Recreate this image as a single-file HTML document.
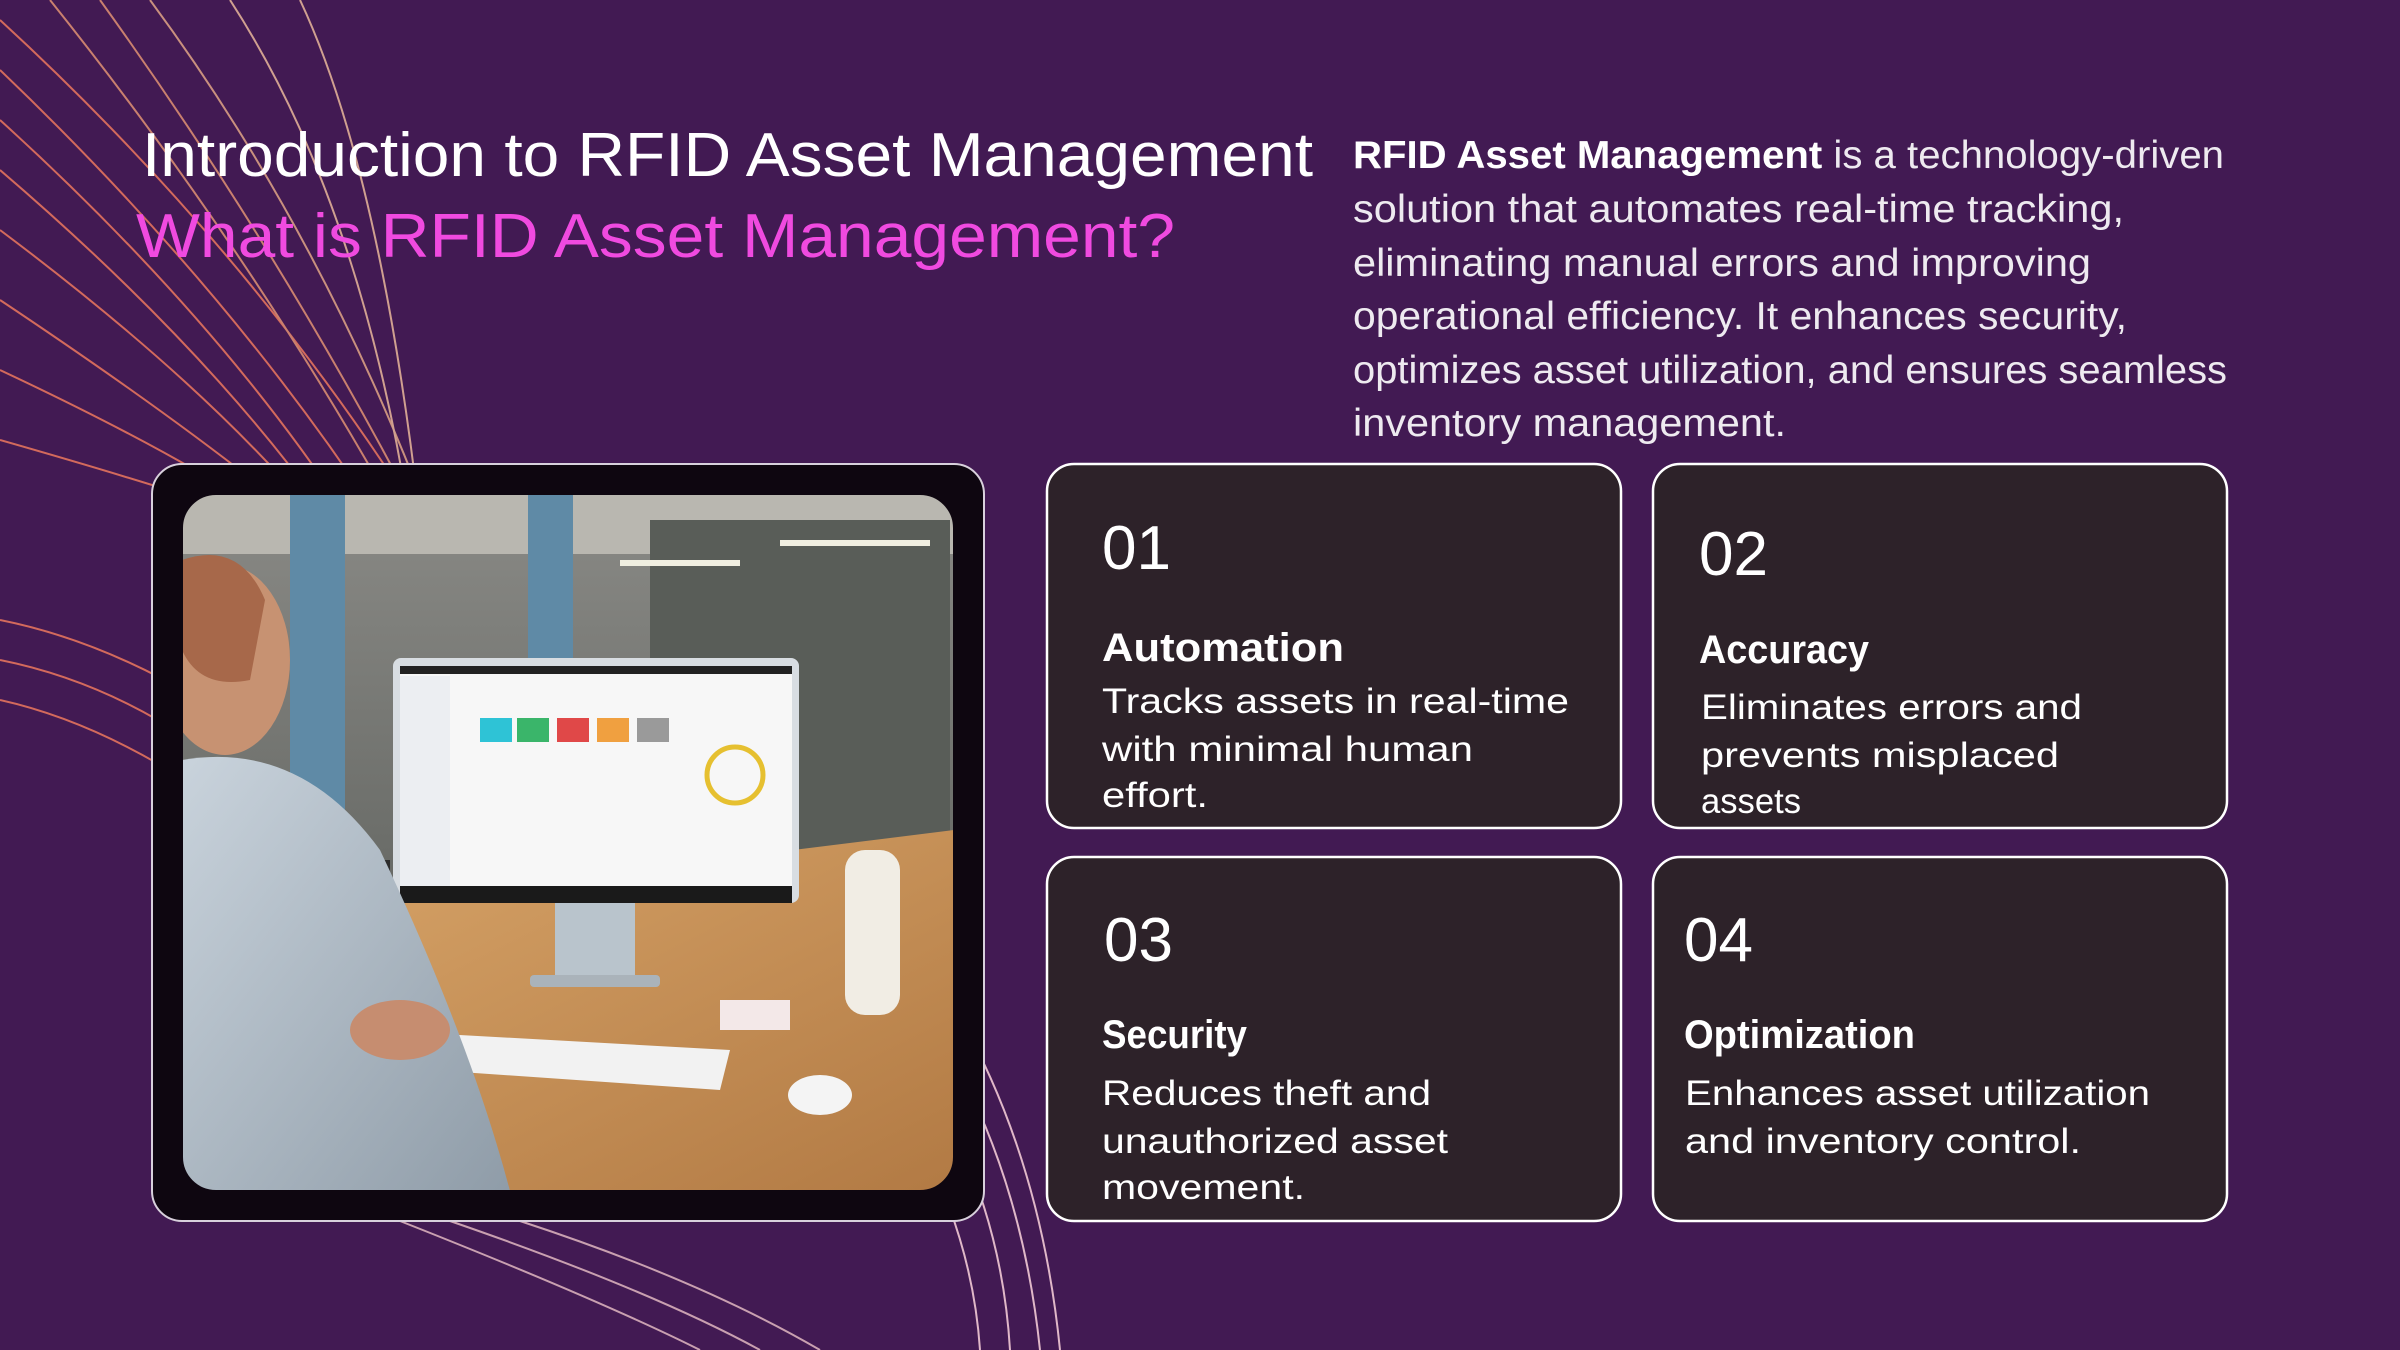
<!DOCTYPE html>
<html><head><meta charset="utf-8"><style>
html,body{margin:0;padding:0;background:#421a53;}
svg{display:block}
text{font-family:"Liberation Sans",sans-serif;}
</style></head><body>
<svg width="2400" height="1350" viewBox="0 0 2400 1350" xmlns="http://www.w3.org/2000/svg">
<defs>
<clipPath id="ph"><rect x="182" y="494" width="772" height="697" rx="34"/></clipPath>
<linearGradient id="bg" x1="0" y1="0" x2="0" y2="1"><stop offset="0" stop-color="#8a8a86"/><stop offset="0.5" stop-color="#6c6e6a"/><stop offset="1" stop-color="#4b4a44"/></linearGradient>
<linearGradient id="desk" x1="0" y1="0" x2="1" y2="1"><stop offset="0" stop-color="#d9a66a"/><stop offset="1" stop-color="#b27a44"/></linearGradient>
<linearGradient id="shirt" x1="0" y1="0" x2="1" y2="1"><stop offset="0" stop-color="#c9d3dc"/><stop offset="1" stop-color="#8f9ca8"/></linearGradient>
</defs>
<rect width="2400" height="1350" fill="#421a53"/>
<!-- decorative curves -->
<g fill="none" stroke-width="2">
<path d="M0 20 Q250 250 420 520" stroke="#d36a5c"/>
<path d="M0 70 Q230 290 380 520" stroke="#d36a5c"/>
<path d="M0 120 Q220 320 350 520" stroke="#d36a5c"/>
<path d="M0 170 Q210 350 330 520" stroke="#d36a5c"/>
<path d="M0 230 Q200 380 310 510" stroke="#d36a5c"/>
<path d="M0 300 Q180 420 290 510" stroke="#d36a5c"/>
<path d="M0 370 Q170 450 260 510" stroke="#d36a5c"/>
<path d="M0 440 Q140 480 230 510" stroke="#d36a5c"/>
<path d="M50 0 Q250 250 400 520" stroke="#c9806e"/>
<path d="M100 0 Q280 250 420 520" stroke="#c9806e"/>
<path d="M150 0 Q320 230 430 520" stroke="#c9907e"/>
<path d="M230 0 Q360 200 410 520" stroke="#d0a090"/>
<path d="M300 0 Q380 170 420 520" stroke="#d0a090"/>
<path d="M0 620 Q100 640 200 700" stroke="#d36a5c"/>
<path d="M0 660 Q100 680 190 740" stroke="#d36a5c"/>
<path d="M0 700 Q90 720 185 780" stroke="#d36a5c"/>
<path d="M950 1000 Q1040 1150 1060 1350" stroke="#e0b8c8"/>
<path d="M930 1020 Q1020 1160 1040 1350" stroke="#e0b8c8"/>
<path d="M900 1040 Q1000 1180 1010 1350" stroke="#e0b8c8"/>
<path d="M870 1060 Q970 1200 980 1350" stroke="#e0b8c8"/>
<path d="M400 1221 Q600 1300 700 1350" stroke="#c9a0b0"/>
<path d="M450 1221 Q650 1290 760 1350" stroke="#c9a0b0"/>
<path d="M520 1221 Q700 1280 820 1350" stroke="#c9a0b0"/>
</g>
<!-- titles -->
<text x="142" y="176" font-size="62" fill="#ffffff" textLength="1171" lengthAdjust="spacingAndGlyphs">Introduction to RFID Asset Management</text>
<text x="136" y="257" font-size="62" fill="#f04ae0" textLength="1039" lengthAdjust="spacingAndGlyphs">What is RFID Asset Management?</text>
<g font-size="39" fill="#eeeaf0">
<text x="1353" y="168" textLength="871" lengthAdjust="spacingAndGlyphs"><tspan font-weight="bold" fill="#fff">RFID Asset Management</tspan> is a technology-driven</text>
<text x="1353" y="222" textLength="771" lengthAdjust="spacingAndGlyphs">solution that automates real-time tracking,</text>
<text x="1353" y="276" textLength="738" lengthAdjust="spacingAndGlyphs">eliminating manual errors and improving</text>
<text x="1353" y="329" textLength="774" lengthAdjust="spacingAndGlyphs">operational efficiency. It enhances security,</text>
<text x="1353" y="383" textLength="874" lengthAdjust="spacingAndGlyphs">optimizes asset utilization, and ensures seamless</text>
<text x="1353" y="436" textLength="433" lengthAdjust="spacingAndGlyphs">inventory management.</text>
</g>
<!-- image frame -->
<rect x="152" y="464" width="832" height="757" rx="30" fill="#0e0610" stroke="#d8d0dc" stroke-width="2"/>
<g clip-path="url(#ph)">
<rect x="182" y="494" width="772" height="697" fill="url(#bg)"/>
<rect x="182" y="494" width="772" height="60" fill="#b9b7b0"/>
<rect x="290" y="494" width="55" height="420" fill="#5f8aa6"/>
<rect x="528" y="494" width="45" height="380" fill="#5f8aa6"/>
<rect x="650" y="520" width="300" height="330" fill="#595d58"/>
<rect x="620" y="560" width="120" height="6" fill="#f0eee0"/>
<rect x="780" y="540" width="150" height="6" fill="#f0eee0"/>
<polygon points="230,920 954,830 954,1191 230,1191" fill="url(#desk)"/>
<rect x="270" y="860" width="120" height="70" fill="#2c2c2c"/>
<!-- monitor -->
<rect x="393" y="658" width="406" height="245" rx="8" fill="#d8dde2"/>
<rect x="400" y="666" width="392" height="220" fill="#f7f7f7"/>
<rect x="400" y="666" width="392" height="8" fill="#222"/>
<rect x="400" y="676" width="50" height="210" fill="#eceef2"/>
<rect x="480" y="718" width="32" height="24" fill="#2ec3d6"/>
<rect x="517" y="718" width="32" height="24" fill="#3ab56a"/>
<rect x="557" y="718" width="32" height="24" fill="#e04848"/>
<rect x="597" y="718" width="32" height="24" fill="#f0a040"/>
<rect x="637" y="718" width="32" height="24" fill="#9a9a9a"/>
<circle cx="735" cy="775" r="28" fill="none" stroke="#e6c030" stroke-width="5"/>
<rect x="400" y="886" width="392" height="17" fill="#1a1a1a"/>
<rect x="555" y="903" width="80" height="75" fill="#b9c4cc"/>
<rect x="530" y="975" width="130" height="12" rx="4" fill="#aab3ba"/>
<!-- keyboard, bottle, mouse -->
<polygon points="370,1030 730,1050 720,1090 360,1065" fill="#f2f2f2"/>
<rect x="845" y="850" width="55" height="165" rx="20" fill="#f1ede4"/>
<ellipse cx="820" cy="1095" rx="32" ry="20" fill="#f4f4f4"/>
<rect x="720" y="1000" width="70" height="30" fill="#f3e8e8"/>
<!-- man -->
<ellipse cx="225" cy="660" rx="65" ry="95" fill="#c79272"/>
<path d="M182 560 Q240 540 265 600 L250 680 Q200 690 182 650 Z" fill="#a7684a"/>
<path d="M182 760 Q300 740 380 850 Q470 1040 510 1191 L182 1191 Z" fill="url(#shirt)"/>
<ellipse cx="400" cy="1030" rx="50" ry="30" fill="#c68d70"/>
</g>
<rect x="182" y="494" width="772" height="697" rx="34" fill="none" stroke="#0e0610" stroke-width="2"/>
<!-- cards -->
<g fill="#2d2229" stroke="#ffffff" stroke-width="2.5">
<rect x="1047" y="464" width="574" height="364" rx="27"/>
<rect x="1653" y="464" width="574" height="364" rx="27"/>
<rect x="1047" y="857" width="574" height="364" rx="27"/>
<rect x="1653" y="857" width="574" height="364" rx="27"/>
</g>
<g fill="#ffffff">
<text x="1102" y="569" font-size="62">01</text>
<text x="1102" y="661" font-size="40" font-weight="bold" textLength="242" lengthAdjust="spacingAndGlyphs">Automation</text>
<text x="1102" y="713" font-size="35" textLength="467" lengthAdjust="spacingAndGlyphs">Tracks assets in real-time</text>
<text x="1102" y="761" font-size="35" textLength="371" lengthAdjust="spacingAndGlyphs">with minimal human</text>
<text x="1102" y="807" font-size="35" textLength="106" lengthAdjust="spacingAndGlyphs">effort.</text>

<text x="1699" y="575" font-size="62">02</text>
<text x="1699" y="663" font-size="40" font-weight="bold" textLength="170" lengthAdjust="spacingAndGlyphs">Accuracy</text>
<text x="1701" y="719" font-size="35" textLength="381" lengthAdjust="spacingAndGlyphs">Eliminates errors and</text>
<text x="1701" y="767" font-size="35" textLength="358" lengthAdjust="spacingAndGlyphs">prevents misplaced</text>
<text x="1701" y="813" font-size="35" textLength="100" lengthAdjust="spacingAndGlyphs">assets</text>

<text x="1104" y="961" font-size="62">03</text>
<text x="1102" y="1048" font-size="40" font-weight="bold" textLength="145" lengthAdjust="spacingAndGlyphs">Security</text>
<text x="1102" y="1105" font-size="35" textLength="329" lengthAdjust="spacingAndGlyphs">Reduces theft and</text>
<text x="1102" y="1153" font-size="35" textLength="346" lengthAdjust="spacingAndGlyphs">unauthorized asset</text>
<text x="1102" y="1199" font-size="35" textLength="203" lengthAdjust="spacingAndGlyphs">movement.</text>

<text x="1684" y="961" font-size="62">04</text>
<text x="1684" y="1048" font-size="40" font-weight="bold" textLength="231" lengthAdjust="spacingAndGlyphs">Optimization</text>
<text x="1685" y="1105" font-size="35" textLength="465" lengthAdjust="spacingAndGlyphs">Enhances asset utilization</text>
<text x="1685" y="1153" font-size="35" textLength="396" lengthAdjust="spacingAndGlyphs">and inventory control.</text>
</g>
</svg>
</body></html>
